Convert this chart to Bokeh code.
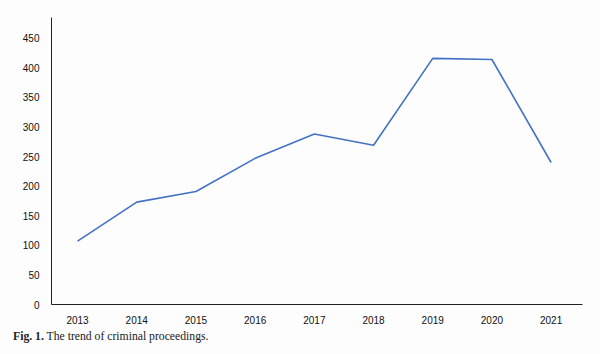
from bokeh.plotting import figure
from bokeh.models import FixedTicker, Range1d, Div
from bokeh.layouts import column
from bokeh.embed import file_html
from bokeh.resources import INLINE

years = [2013, 2014, 2015, 2016, 2017, 2018, 2019, 2020, 2021]
proceedings = [107, 173, 191, 247, 288, 269, 416, 414, 240]
y_ticks = [0, 50, 100, 150, 200, 250, 300, 350, 400, 450]
caption_bold = "Fig. 1."
caption_text = "The trend of criminal proceedings."

p = figure(width=600, height=326, output_backend="svg", toolbar_location=None,
           x_range=Range1d(2012.56, 2021.53), y_range=Range1d(0, 485),
           min_border_left=51, min_border_right=18, min_border_top=17, min_border_bottom=18)
p.background_fill_color = "#fdfdfd"
p.border_fill_color = "#fdfdfd"
p.outline_line_color = None
p.grid.visible = False

p.line(years, proceedings, line_color="#4472C4", line_width=1.6)

for ax in (p.xaxis[0], p.yaxis[0]):
    ax.major_tick_line_color = None
    ax.minor_tick_line_color = None
    ax.axis_line_color = "#222222"
    ax.axis_line_width = 1
    ax.major_label_text_font = "Liberation Sans"
    ax.major_label_text_font_size = "10px"
    ax.major_label_text_color = "#111111"

p.xaxis.ticker = FixedTicker(ticks=years)
p.yaxis.ticker = FixedTicker(ticks=y_ticks)
p.xaxis.major_label_standoff = 5
p.yaxis.major_label_standoff = 6

div = Div(width=600, height=28, margin=0,
          text=(f'<div style="font-family:\'Liberation Serif\'; font-size:11.7px; '
                f'line-height:12px; color:#222222; padding:5px 0 0 13px;">'
                f'<b>{caption_bold}</b> {caption_text}</div>'),
          styles={"background-color": "#fdfdfd"})

layout = column(p, div, spacing=0)
open("out.html", "w").write(file_html(layout, INLINE))
